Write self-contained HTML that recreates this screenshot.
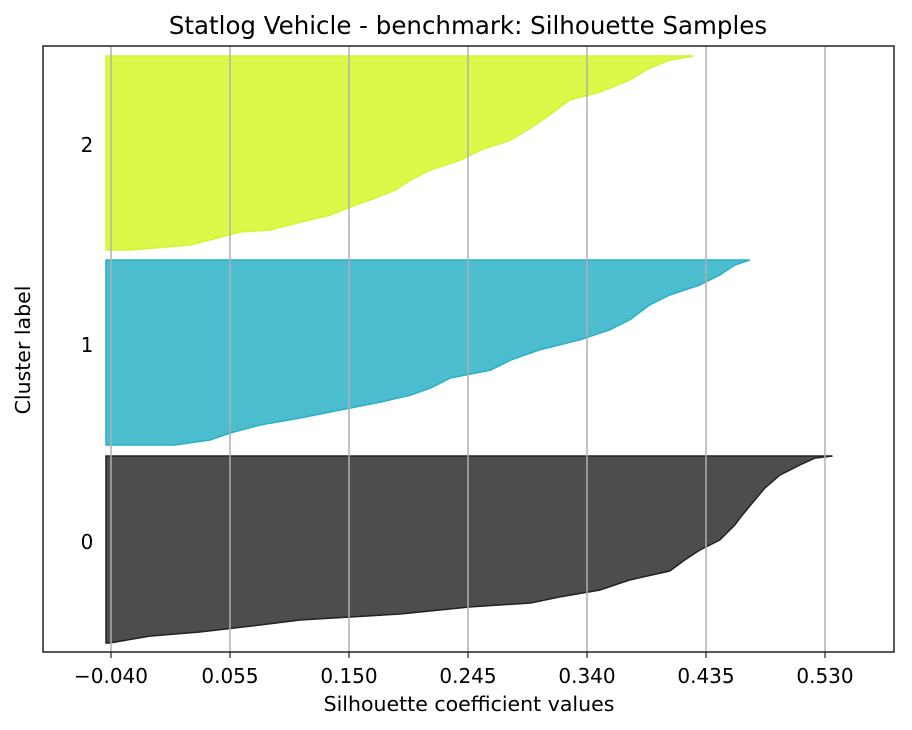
<!DOCTYPE html>
<html><head><meta charset="utf-8"><style>
body{margin:0;background:#fff;}
svg{display:block;font-family:"DejaVu Sans","Liberation Sans",sans-serif;}
</style></head><body>
<svg id="chart" width="912" height="730" xmlns="http://www.w3.org/2000/svg">
<rect x="0" y="0" width="912" height="730" fill="#fff"/>
<text x="468" y="34" font-size="24.5" text-anchor="middle" fill="#000">Statlog Vehicle - benchmark: Silhouette Samples</text>
<text x="469" y="711" font-size="20.5" text-anchor="middle" fill="#000">Silhouette coefficient values</text>
<text x="30" y="350" font-size="20.5" text-anchor="middle" fill="#000" transform="rotate(-90 30 350)">Cluster label</text>
<g id="marks"></g>
<g id="grid"></g>
<g id="ticks"></g>
<rect x="43" y="46" width="851" height="606" fill="none" stroke="#222" stroke-width="1.5"/>
</svg>
<script>
const xTicks = [-0.040, 0.055, 0.150, 0.245, 0.340, 0.435, 0.530];
const clusterLabels = ["0", "1", "2"];
const c0Frac = [0,0.037,0.059,0.096,0.123,0.155,0.193,0.214,0.246,0.283,0.337,0.385,0.444,0.497,0.551,0.631,0.684,0.765,0.829,0.898,0.952,0.989,1];
const c0Vals = [-0.041,-0.009,0.031,0.079,0.111,0.191,0.247,0.295,0.318,0.350,0.374,0.406,0.418,0.430,0.446,0.458,0.464,0.474,0.482,0.494,0.510,0.522,0.536];
const c1Frac = [0,0.027,0.065,0.108,0.146,0.189,0.232,0.270,0.308,0.362,0.405,0.459,0.514,0.568,0.622,0.676,0.757,0.811,0.865,0.919,0.973,1];
const c1Vals = [0.011,0.039,0.055,0.079,0.111,0.143,0.175,0.199,0.215,0.231,0.263,0.279,0.302,0.334,0.358,0.374,0.390,0.406,0.430,0.446,0.458,0.470];
const c2Frac = [0,0.026,0.052,0.093,0.103,0.144,0.180,0.222,0.258,0.309,0.361,0.412,0.464,0.515,0.567,0.629,0.696,0.773,0.814,0.876,0.938,0.979,1];
const c2Vals = [-0.025,0.023,0.039,0.063,0.087,0.111,0.135,0.151,0.167,0.187,0.199,0.215,0.239,0.255,0.279,0.295,0.310,0.326,0.350,0.374,0.390,0.406,0.425];
const baseVal = -0.044;

const NS="http://www.w3.org/2000/svg";
function xScale(v){return 111+(v+0.04)*(714/0.57);}
const labelY=[549,352,152];
const bands=[{b:643,t:456,fill:"#4d4d4d",stroke:"#222",fr:c0Frac,v:c0Vals},
             {b:445,t:260,fill:"#4cbccf",stroke:"#2ab0c4",fr:c1Frac,v:c1Vals},
             {b:250,t:56,fill:"#dcf94a",stroke:"#d2f530",fr:c2Frac,v:c2Vals}];
const marks=document.getElementById('marks');
bands.forEach((bd,i)=>{
  const yOf=f=>bd.b-f*(bd.b-bd.t);
  let d="M"+xScale(baseVal)+","+bd.b;
  for(let k=0;k<bd.fr.length;k++){d+=" L"+xScale(bd.v[k]).toFixed(1)+","+yOf(bd.fr[k]).toFixed(1);}
  d+=" L"+xScale(baseVal)+","+bd.t+" Z";
  const p=document.createElementNS(NS,'path');
  p.setAttribute('d',d);p.setAttribute('fill',bd.fill);p.setAttribute('stroke',bd.stroke);p.setAttribute('stroke-width','1.5');
  
  
  marks.appendChild(p);
  const t=document.createElementNS(NS,'text');
  t.setAttribute('x',87);t.setAttribute('y',labelY[i]);t.setAttribute('font-size','20');t.setAttribute('text-anchor','middle');
  t.textContent=clusterLabels[i];
  
  
  document.getElementById('ticks').appendChild(t);
});
const grid=document.getElementById('grid'),ticks=document.getElementById('ticks');
xTicks.forEach(v=>{
  const x=xScale(v);
  const l=document.createElementNS(NS,'line');
  l.setAttribute('x1',x);l.setAttribute('x2',x);l.setAttribute('y1',46);l.setAttribute('y2',652);
  l.setAttribute('stroke','#b0b0b0');l.setAttribute('stroke-width','1.5');
  
  
  grid.appendChild(l);
  const tk=document.createElementNS(NS,'line');
  tk.setAttribute('x1',x);tk.setAttribute('x2',x);tk.setAttribute('y1',652);tk.setAttribute('y2',658);
  tk.setAttribute('stroke','#222');tk.setAttribute('stroke-width','1.2');
  
  
  ticks.appendChild(tk);
  const t=document.createElementNS(NS,'text');
  t.setAttribute('x',x);t.setAttribute('y',683);t.setAttribute('font-size','20');t.setAttribute('text-anchor','middle');
  t.textContent=(v<0?"\u2212":"")+Math.abs(v).toFixed(3);
  
  
  ticks.appendChild(t);
});
</script>
</body></html>
